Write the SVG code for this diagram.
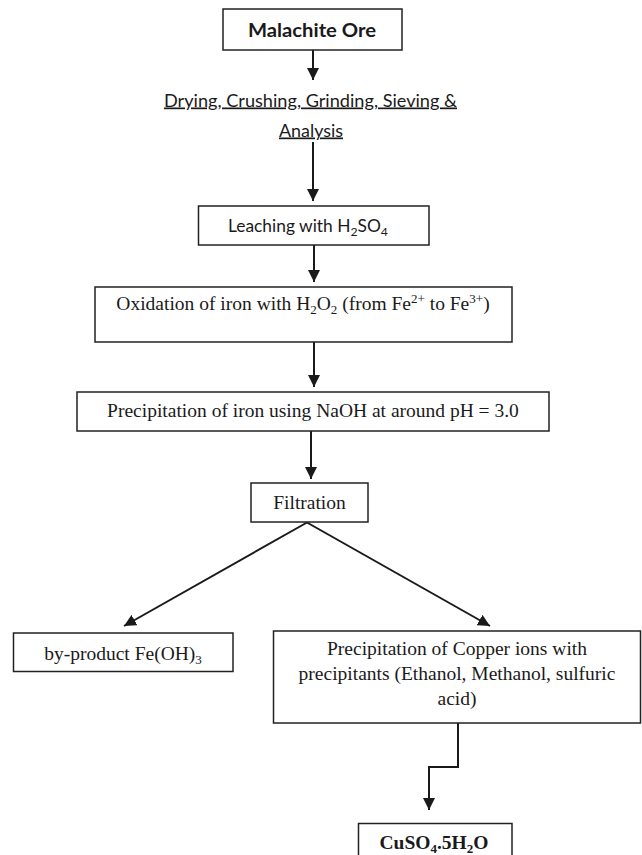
<svg xmlns="http://www.w3.org/2000/svg" width="642" height="855" viewBox="0 0 642 855">
<style>
.box{fill:#fff;stroke:#222;stroke-width:1.5}
.t{font-family:"Liberation Serif","Times New Roman",serif;font-size:19.5px;fill:#1a1a1a;text-anchor:middle}
.c{font-family:Lato,"Liberation Sans",sans-serif;font-size:17px;fill:#1a1a1a;text-anchor:middle}
.cb{font-family:Lato,"Liberation Sans",sans-serif;font-size:18px;font-weight:bold;fill:#1a1a1a;text-anchor:middle}
.tb{font-family:"Liberation Serif","Times New Roman",serif;font-size:19.5px;font-weight:bold;fill:#1a1a1a;text-anchor:middle}
.u{text-decoration:underline}
.con{fill:none;stroke:#1a1a1a;stroke-width:2;marker-end:url(#ah)}
</style>
<defs>
<marker id="ah" markerUnits="userSpaceOnUse" markerWidth="12" markerHeight="12" viewBox="0 0 11 11" refX="11" refY="5.5" orient="auto">
<path d="M0,0 L11,5.5 L0,11 Z" fill="#1a1a1a"/>
</marker>
</defs>
<rect width="642" height="855" fill="#fff"/>

<g id="connectors">
<line class="con" x1="313" y1="50" x2="313" y2="80"/>
<line class="con" x1="313" y1="142" x2="313" y2="201"/>
<line class="con" x1="314" y1="245" x2="314" y2="282"/>
<line class="con" x1="314" y1="342" x2="314" y2="387"/>
<line class="con" x1="311" y1="431" x2="311" y2="479"/>
<line class="con" x1="307" y1="522.5" x2="124" y2="626"/>
<line class="con" x1="307" y1="522.5" x2="490" y2="626"/>
<polyline class="con" points="458,723 458,767 429,767 429,810"/>
</g>

<g id="malachite">
<rect class="box" x="223" y="9" width="179" height="41"/>
<text class="cb" x="312" y="37" textLength="128" lengthAdjust="spacingAndGlyphs">Malachite Ore</text>
</g>

<g id="drying">
<text class="c u" x="310.5" y="106.5" textLength="293" lengthAdjust="spacingAndGlyphs">Drying, Crushing, Grinding, Sieving &amp;</text>
<text class="c u" x="311" y="136.5" textLength="64" lengthAdjust="spacingAndGlyphs">Analysis</text>
</g>

<g id="leaching">
<rect class="box" x="198.5" y="206" width="230.5" height="39"/>
<text class="c" x="308" y="232" textLength="160" lengthAdjust="spacingAndGlyphs">Leaching with H<tspan font-size="12" dy="4">2</tspan><tspan dy="-4">SO</tspan><tspan font-size="12" dy="4">4</tspan></text>
</g>

<g id="oxidation">
<rect class="box" x="95" y="287" width="417" height="55"/>
<text class="t" x="303" y="310">Oxidation of iron with H<tspan font-size="13" dy="4">2</tspan><tspan dy="-4">O</tspan><tspan font-size="13" dy="4">2</tspan><tspan dy="-4"> (from Fe</tspan><tspan font-size="13" dy="-7">2+</tspan><tspan dy="7"> to Fe</tspan><tspan font-size="13" dy="-7">3+</tspan><tspan dy="7">)</tspan></text>
</g>

<g id="precip-iron">
<rect class="box" x="77" y="392" width="472" height="39"/>
<text class="t" x="313" y="417">Precipitation of iron using NaOH at around pH = 3.0</text>
</g>

<g id="filtration">
<rect class="box" x="251" y="483" width="117" height="39"/>
<text class="t" x="309.5" y="508.5">Filtration</text>
</g>

<g id="byproduct">
<rect class="box" x="13.5" y="633" width="219.5" height="38.5"/>
<text class="t" x="123" y="659.5">by-product Fe(OH)<tspan font-size="13" dy="4">3</tspan></text>
</g>

<g id="precip-copper">
<rect class="box" x="273.5" y="631" width="367" height="92"/>
<text class="t" x="457" y="655">Precipitation of Copper ions with</text>
<text class="t" x="457" y="680">precipitants (Ethanol, Methanol, sulfuric</text>
<text class="t" x="457" y="705">acid)</text>
</g>

<g id="cuso4">
<rect class="box" x="358.5" y="823.5" width="153.5" height="45"/>
<text class="tb" x="434" y="849">CuSO<tspan font-size="13" dy="4">4</tspan><tspan dy="-4">.5H</tspan><tspan font-size="13" dy="4">2</tspan><tspan dy="-4">O</tspan></text>
</g>
</svg>
